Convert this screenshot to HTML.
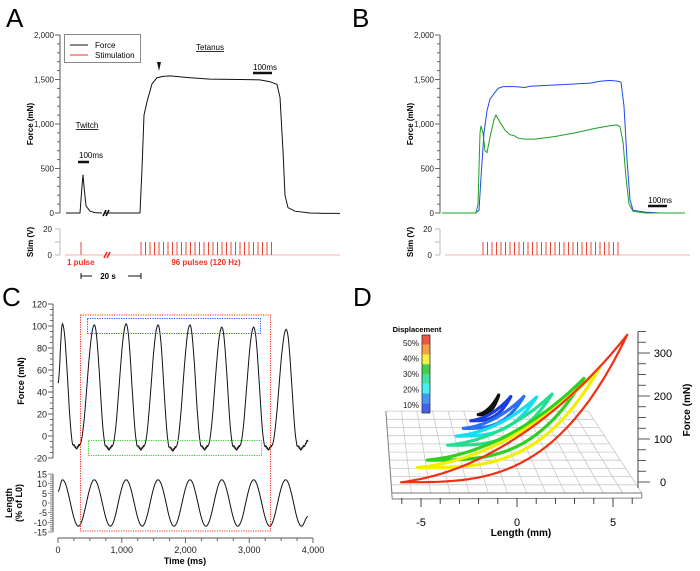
<!DOCTYPE html>
<html><head><meta charset="utf-8"><style>
html,body{margin:0;padding:0;background:#fff;}
svg{display:block;font-family:"Liberation Sans",sans-serif;}
</style></head><body>
<svg id="fig" width="700" height="571" viewBox="0 0 700 571" xmlns="http://www.w3.org/2000/svg">
<text x="6" y="27" font-size="26">A</text>
<text x="352" y="27" font-size="26">B</text>
<text x="2" y="306" font-size="26">C</text>
<text x="353" y="306" font-size="26">D</text>
<g id="A"></g>
<g id="B"></g>
<g id="C"></g>
<g id="D"></g>
</svg>
<script>
// ---------- Panel A data ----------
const tA_twitch = [10,150,170,180,190,210,250,300,370];
const fA_twitch = [0,0,300,430,300,80,20,5,0];
const tA_flat = [400,750];
const fA_flat = [0,0];
const tA_tet = [750,770,790,820,870,920,980,1050,1250,1450,1750,1950,2050,2120,2150,2180,2200,2230,2300,2450,2600,2750];
const fA_tet = [0,500,1100,1250,1450,1520,1535,1540,1520,1505,1500,1495,1475,1445,1300,700,200,60,20,0,-5,-5];
const stimA_twitch = [160];
const stimA_tet = [760,805,850,895,940,985,1030,1075,1120,1165,1210,1255,1300,1345,1390,1435,1480,1525,1570,1615,1660,1705,1750,1795,1840,1885,1930,1975,2020,2065];
const forceTicks = [0,500,1000,1500,2000];
const forceTickLabels = ["0","500","1,000","1,500","2,000"];
const stimTicks = [0,20];
// ---------- Panel B data ----------
const tB = [0,330,370,390,420,450,480,520,560,610,730,830,880,1180,1480,1580,1680,1760,1790,1820,1850,1880,1910,2030,2180,2430];
const fB_blue = [0,0,30,400,900,1150,1280,1340,1400,1420,1420,1410,1425,1440,1460,1480,1490,1480,1470,1200,600,150,30,10,0,0];
const tB_g = [0,340,360,380,390,410,430,450,480,520,540,580,630,680,720,760,830,930,1130,1330,1530,1680,1750,1780,1810,1840,1870,1910,2030,2430];
const fB_green = [0,0,100,900,980,900,700,680,850,1050,1100,1020,930,880,870,840,830,830,860,900,950,980,990,970,800,400,100,20,0,0];
const stimB = [410,455,500,545,590,635,680,725,770,815,860,905,950,995,1040,1085,1130,1175,1220,1265,1310,1355,1400,1445,1490,1535,1580,1625,1670,1715,1760];
// ---------- Panel C data ----------
const cForceT = [0,70,240,290,340,570,750,800,850,1070,1250,1300,1350,1570,1750,1800,1850,2070,2250,2300,2350,2570,2750,2800,2850,3070,3250,3300,3350,3580,3760,3810,3860,3920];
const cForceV = [48,102,-8,-11,-8,101,-9,-12,-9,102,-9,-12,-9,101,-10,-13,-10,101,-9,-12,-9,99,-9,-12,-9,99,-9,-12,-9,97,-9,-12,-9,-4];
const cLenT = [0,70,320,570,820,1070,1320,1570,1820,2070,2320,2570,2820,3070,3320,3570,3820,3920];
const cLenV = [6,12,-12,12,-12,12,-12,12,-12,12,-12,12,-12,12,-12,12,-12,-7];
const cForceTicks = [-20,0,20,40,60,80,100,120];
const cLenTicks = [-15,-10,-5,0,5,10,15];
const cTimeTicks = [0,1000,2000,3000,4000];
const cTimeLabels = ["0","1,000","2,000","3,000","4,000"];
// ---------- Panel D data ----------
const dDisp = [5,10,15,20,25,35,40,50];
const dPeakForce = [57,69,89,106,135,207,246,350];
const dHalfLen = [0.65,1.25,1.85,2.4,3.05,4.4,5,6];
const dDepth = [1,0.92,0.82,0.72,0.6,0.4,0.3,0.1];
const dColors = ["#111111","#1a3ce0","#2a70f0","#12e0f0","#20e090","#30d020","#f0f000","#f03010"];
const dForceTicks = [0,100,200,300];
const dLenTicks = [-5,0,5];
const barLabels = ["50%","40%","30%","20%","10%"];
const barColors = ["#f05444","#f8a044","#f8f040","#44d044","#44e0a0","#44f0f0","#4498f0","#4460f0"];

const NS="http://www.w3.org/2000/svg";
function mk(parent,tag,attrs,text){const e=document.createElementNS(NS,tag);for(const k in attrs)e.setAttribute(k,attrs[k]);if(text!==undefined)e.textContent=text;parent.appendChild(e);return e;}
function pathOf(ts,vs,xs,ys){return ts.map((t,i)=>(i?"L":"M")+xs(t).toFixed(1)+","+ys(vs[i]).toFixed(1)).join("");}
const gA=document.getElementById("A"),gB=document.getElementById("B"),gC=document.getElementById("C"),gD=document.getElementById("D");

function forceStimAxes(g,ax,xs,xEnd,panel){
  const ys=f=>213-f*178/2000;
  let e=mk(g,"line",{x1:ax,y1:ys(2000),x2:ax,y2:ys(0),stroke:"#555","stroke-width":1});
  
  
  for(let v=0;v<=2000;v+=100){
    e=mk(g,"line",{x1:ax-(v%500?3:5),y1:ys(v),x2:ax,y2:ys(v),stroke:"#666","stroke-width":1});
    
    
  }
  forceTicks.forEach((v,i)=>{
    e=mk(g,"text",{x:ax-6,y:ys(v)+3,"font-size":8,"text-anchor":"end",fill:"#222"},forceTickLabels[i]);
    
    
  });
  e=mk(g,"text",{transform:`translate(${ax-27},124) rotate(-90)`,"font-size":8,"font-weight":"bold","text-anchor":"middle"},"Force (mN)");
  
  
  const ss=v=>255-v*1.3;
  e=mk(g,"line",{x1:ax,y1:ss(20),x2:ax,y2:ss(0),stroke:"#bbb","stroke-width":1});
  
  
  [0,10,20].forEach(v=>{
    e=mk(g,"line",{x1:ax-5,y1:ss(v),x2:ax,y2:ss(v),stroke:"#bbb","stroke-width":1});
    
    
  });
  stimTicks.forEach(v=>{
    e=mk(g,"text",{x:ax-8,y:ss(v)+3,"font-size":8,"text-anchor":"end",fill:"#222"},String(v));
    
    
  });
  e=mk(g,"text",{transform:`translate(${ax-27},242) rotate(-90)`,"font-size":8,"font-weight":"bold","text-anchor":"middle"},"Stim (V)");
  
  
  e=mk(g,"line",{x1:ax+5,y1:ss(0),x2:xEnd,y2:ss(0),stroke:"#f6b0a8","stroke-width":1});
  
  
  return {ys,ss};
}

// ---------- Panel A ----------
(function(){
  const xs=t=>65+t/10;
  const {ys,ss}=forceStimAxes(gA,60,xs,340,'a');
  let e;
  [[tA_twitch,fA_twitch,'twitch-trace'],[tA_flat,fA_flat,'baseline-trace'],[tA_tet,fA_tet,'tetanus-trace']].forEach(([t,f,n])=>{
    e=mk(gA,"path",{d:pathOf(t,f,xs,ys),fill:"none",stroke:"#111","stroke-width":1});
    
    
  });
  stimA_twitch.concat(stimA_tet).forEach(t=>{
    e=mk(gA,"line",{x1:xs(t),y1:ss(0),x2:xs(t),y2:ss(10),stroke:"#f03020","stroke-width":0.9});
    
    
  });
  [[103,216,210,"#111"],[104,258,252,"#f03020"]].forEach(([x,y1,y2,c])=>{
    for(let k=0;k<2;k++){
      e=mk(gA,"line",{x1:x+k*3,y1:y1,x2:x+k*3+3,y2:y2,stroke:c,"stroke-width":1.6});
      
      
    }
  });
  e=mk(gA,"rect",{x:64.5,y:34.5,width:76,height:28,fill:"#fff",stroke:"#888","stroke-width":1});
  
  
  e=mk(gA,"line",{x1:70,y1:45,x2:88,y2:45,stroke:"#111"});
  
  
  e=mk(gA,"text",{x:95,y:48,"font-size":8},"Force");
  
  
  e=mk(gA,"line",{x1:70,y1:55,x2:88,y2:55,stroke:"#f03020"});
  
  
  e=mk(gA,"text",{x:95,y:58,"font-size":8},"Stimulation");
  
  
  e=mk(gA,"text",{x:210,y:50,"font-size":8,"text-anchor":"middle","text-decoration":"underline"},"Tetanus");
  
  
  e=mk(gA,"text",{x:87,y:128,"font-size":8,"text-anchor":"middle","text-decoration":"underline"},"Twitch");
  
  
  e=mk(gA,"text",{x:79,y:158,"font-size":8},"100ms");
  
  
  e=mk(gA,"line",{x1:78,y1:162,x2:89,y2:162,stroke:"#111","stroke-width":2.5});
  
  
  e=mk(gA,"text",{x:253,y:70,"font-size":8},"100ms");
  
  
  e=mk(gA,"line",{x1:253,y1:73,x2:272,y2:73,stroke:"#111","stroke-width":2.5});
  
  
  e=mk(gA,"path",{d:"M157,62 L161,62 L159,71 Z",fill:"#111"});
  
  
  e=mk(gA,"text",{x:67,y:265,"font-size":8,"font-weight":"bold",fill:"#f03020"},"1 pulse");
  
  
  e=mk(gA,"text",{x:206,y:265,"font-size":8,"font-weight":"bold",fill:"#f03020","text-anchor":"middle"},"96 pulses (120 Hz)");
  
  
  e=mk(gA,"path",{d:"M81,273 V279 M81,276 H92 M128,276 H141 M141,273 V279",stroke:"#111",fill:"none","stroke-width":1});
  
  
  e=mk(gA,"text",{x:108,y:279,"font-size":8,"font-weight":"bold","text-anchor":"middle"},"20 s");
  
  
})();

// ---------- Panel B ----------
(function(){
  const xs=t=>442+t/10;
  const {ys,ss}=forceStimAxes(gB,440,xs,690,'b');
  let e=mk(gB,"path",{d:pathOf(tB,fB_blue,xs,ys),fill:"none",stroke:"#1f48f0","stroke-width":1});
  
  
  e=mk(gB,"path",{d:pathOf(tB_g,fB_green,xs,ys),fill:"none",stroke:"#1aa020","stroke-width":1});
  
  
  stimB.forEach(t=>{
    e=mk(gB,"line",{x1:xs(t),y1:ss(0),x2:xs(t),y2:ss(10),stroke:"#f03020","stroke-width":0.9});
    
    
  });
  e=mk(gB,"text",{x:648,y:203,"font-size":8},"100ms");
  
  
  e=mk(gB,"line",{x1:648,y1:206,x2:667,y2:206,stroke:"#111","stroke-width":2.5});
  
  
})();

// ---------- Panel C ----------
(function(){
  const xs=t=>58+t*0.06375;
  const yf=f=>458-(f+20)*1.1;
  const yl=l=>503-l*1.933;
  let e;
  function smooth(ts,vs,ys,jitter){
    let d="";
    for(let i=0;i<ts.length-1;i++){
      const n=16;
      for(let k=0;k<=n;k++){
        if(i>0&&k==0)continue;
        const u=k/n,w=(1-Math.cos(Math.PI*u))/2;
        const v=vs[i]+(vs[i+1]-vs[i])*w;
        let y=ys(v);
        if(jitter&&v<-3&&k%3==0)y+=(k%2?1.2:-1.2);
        d+=(d?"L":"M")+xs(ts[i]+(ts[i+1]-ts[i])*u).toFixed(1)+","+y.toFixed(1);
      }
    }
    return d;
  }
  e=mk(gC,"line",{x1:53,y1:yf(120),x2:53,y2:yf(-20),stroke:"#555"});
  
  
  for(let v=-20;v<=120;v+=5){
    e=mk(gC,"line",{x1:53-(v%20?3:5),y1:yf(v),x2:53,y2:yf(v),stroke:"#666"});
    
    
  }
  cForceTicks.forEach(v=>{
    e=mk(gC,"text",{x:47,y:yf(v)+3.5,"font-size":9,"text-anchor":"end",fill:"#222"},String(v));
    
    
  });
  e=mk(gC,"text",{transform:"translate(24,381) rotate(-90)","font-size":9,"font-weight":"bold","text-anchor":"middle"},"Force (mN)");
  
  
  e=mk(gC,"line",{x1:53,y1:yl(15),x2:53,y2:yl(-15),stroke:"#555"});
  
  
  for(let v=-15;v<=15;v+=1){
    e=mk(gC,"line",{x1:53-(v%5?3:5),y1:yl(v),x2:53,y2:yl(v),stroke:"#777","stroke-width":0.8});
    
    
  }
  cLenTicks.forEach(v=>{
    e=mk(gC,"text",{x:47,y:yl(v)+3.5,"font-size":9,"text-anchor":"end",fill:"#222"},String(v));
    
    
  });
  e=mk(gC,"text",{transform:"translate(12,503) rotate(-90)","font-size":9,"font-weight":"bold","text-anchor":"middle"},"Length");
  
  
  e=mk(gC,"text",{transform:"translate(22,503) rotate(-90)","font-size":9,"font-weight":"bold","text-anchor":"middle"},"(% of L0)");
  
  
  e=mk(gC,"line",{x1:xs(0),y1:538,x2:xs(4000),y2:538,stroke:"#555"});
  
  
  for(let v=0;v<=4000;v+=250){
    e=mk(gC,"line",{x1:xs(v),y1:538,x2:xs(v),y2:538+(v%1000?3:5),stroke:"#666"});
    
    
  }
  cTimeTicks.forEach((v,i)=>{
    e=mk(gC,"text",{x:xs(v),y:553,"font-size":9,"text-anchor":"middle",fill:"#222"},cTimeLabels[i]);
    
    
  });
  e=mk(gC,"text",{x:185,y:564,"font-size":9,"font-weight":"bold","text-anchor":"middle"},"Time (ms)");
  
  
  e=mk(gC,"path",{d:smooth(cForceT,cForceV,yf,true),fill:"none",stroke:"#111","stroke-width":1});
  
  
  e=mk(gC,"path",{d:smooth(cLenT,cLenV,yl,false),fill:"none",stroke:"#111","stroke-width":1});
  
  
  e=mk(gC,"rect",{x:80.5,y:315,width:190,height:216,fill:"none",stroke:"#f03020","stroke-dasharray":"1.2,1.2","stroke-width":1});
  
  
  e=mk(gC,"rect",{x:87.5,y:318.5,width:173,height:15,fill:"none",stroke:"#3050f0","stroke-dasharray":"1.2,1.2","stroke-width":1});
  
  
  e=mk(gC,"rect",{x:88.5,y:440.5,width:173,height:15,fill:"none",stroke:"#30d030","stroke-dasharray":"1.2,1.2","stroke-width":1});
  
  
})();

// ---------- Panel D ----------
(function(){
  function P(L,F,d){
    const cx=517-28.5*d, sc=19.2*(1-0.18*d), by=493-78*d;
    return [cx+L*sc, by-F*0.43*(1-0.2*d)];
  }
  let e;
  let gd="";
  for(let L=-6.5;L<=6.51;L+=1){const a=P(L,0,0),b=P(L,0,1.05);gd+=`M${a[0].toFixed(1)},${a[1].toFixed(1)}L${b[0].toFixed(1)},${b[1].toFixed(1)}`;}
  for(let d=0;d<=1.051;d+=0.105){const a=P(-6.5,0,d),b=P(6.5,0,d);gd+=`M${a[0].toFixed(1)},${a[1].toFixed(1)}L${b[0].toFixed(1)},${b[1].toFixed(1)}`;}
  e=mk(gD,"path",{d:gd,stroke:"#c8c8c8","stroke-width":0.8,fill:"none"});
  
  
  const fl=P(-6.5,0,0),fr=P(6.5,0,0),bl=P(-6.5,0,1.05);
  e=mk(gD,"path",{d:`M${bl[0]},${bl[1]}L${fl[0]},${fl[1]+6}L${fr[0]},${fr[1]+5}M${fl[0]},${fl[1]}L${fr[0]},${fr[1]}L${fr[0]},${fr[1]+5}`,stroke:"#777","stroke-width":0.9,fill:"none"});
  
  
  for(let L=-6;L<=6;L++){
    const a=P(L,0,0);
    e=mk(gD,"line",{x1:a[0],y1:a[1]+5,x2:a[0],y2:a[1]+(L%5?11:14),stroke:"#333","stroke-width":0.9});
    
    
  }
  dLenTicks.forEach(L=>{
    const a=P(L,0,0);
    e=mk(gD,"text",{x:a[0],y:a[1]+33,"font-size":11,"text-anchor":"middle"},String(L));
    
    
  });
  e=mk(gD,"text",{x:521,y:536,"font-size":10,"font-weight":"bold","text-anchor":"middle"},"Length (mm)");
  
  
  const fy=F=>482-F*0.43;
  e=mk(gD,"line",{x1:638,y1:fy(350),x2:638,y2:fy(0)+6,stroke:"#444"});
  
  
  for(let F=0;F<=350;F+=25){
    e=mk(gD,"line",{x1:638,y1:fy(F),x2:638+(F%100?8:12),y2:fy(F),stroke:"#444","stroke-width":0.9});
    
    
  }
  dForceTicks.forEach(F=>{
    e=mk(gD,"text",{x:663,y:fy(F)+4,"font-size":11,"text-anchor":"middle"},String(F));
    
    
  });
  e=mk(gD,"text",{transform:"translate(690,410) rotate(-90)","font-size":10,"font-weight":"bold","text-anchor":"middle"},"Force (mN)");
  
  
  dDisp.forEach((disp,i)=>{
    const R=dHalfLen[i],Fp=dPeakForce[i],d=dDepth[i];
    let pts=[];
    for(let k=0;k<=30;k++){const t=k/30;pts.push(P(-R+2*R*t,Fp*Math.pow(t,3.2)+Fp*0.02,d));}
    for(let k=30;k>=0;k--){const t=k/30;pts.push(P(-R+2*R*t-R*0.06*Math.sin(Math.PI*t),Fp*Math.pow(t,2.3)+Fp*0.06*Math.sin(Math.PI*t)+Fp*0.02,d));}
    e=mk(gD,"path",{d:"M"+pts.map(p=>p[0].toFixed(1)+","+p[1].toFixed(1)).join("L")+"Z",fill:"none",stroke:dColors[i],"stroke-width":i==7?2.2:3.2,"stroke-linejoin":"round"});
    
    
  });
  e=mk(gD,"text",{x:417,y:332,"font-size":7.5,"font-weight":"bold","text-anchor":"middle"},"Displacement");
  
  
  barColors.forEach((c,i)=>{
    e=mk(gD,"rect",{x:422,y:335+i*9.75,width:8,height:9.75,fill:c});
    
    
  });
  e=mk(gD,"rect",{x:422,y:335,width:8,height:78,fill:"none",stroke:"#333","stroke-width":0.8});
  
  
  barLabels.forEach((t,i)=>{
    e=mk(gD,"text",{x:419,y:346+i*15.5,"font-size":8,"text-anchor":"end",fill:"#222"},t);
    
    
  });
})();
</script>
</body></html>
